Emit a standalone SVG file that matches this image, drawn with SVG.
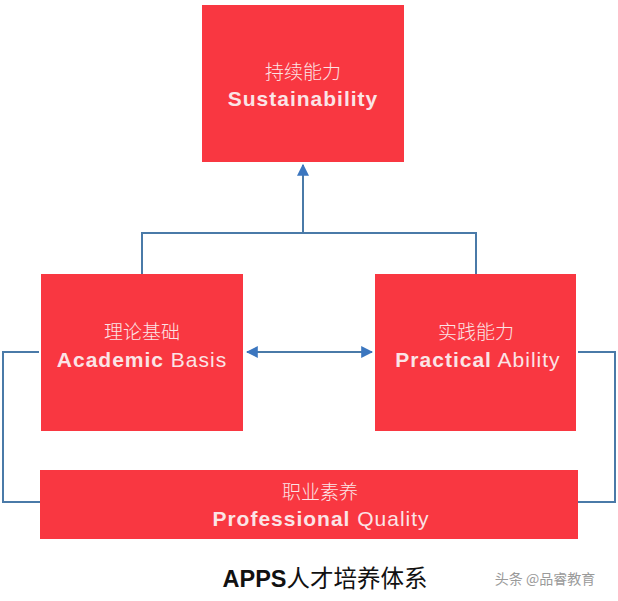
<svg xmlns="http://www.w3.org/2000/svg" width="618" height="601" viewBox="0 0 618 601">
<style>
.box{fill:#F93741}
.cn{font-family:"Noto Sans CJK SC","Noto Sans",sans-serif;font-size:19px;font-weight:300;fill:#FBE4E6;text-anchor:middle}
.en{font-family:"Liberation Sans","Noto Sans CJK SC",sans-serif;font-size:21px;letter-spacing:1px;fill:#FBE4E6;text-anchor:middle}
.b{font-weight:bold}
.ln{fill:none;stroke:#4A7AA8;stroke-width:2}
</style>
<defs>
<marker id="ah" viewBox="0 0 10 10" refX="9" refY="5" markerWidth="6" markerHeight="6" orient="auto-start-reverse" markerUnits="strokeWidth">
<path d="M0,0 L10,5 L0,10 z" fill="#3B76BF"/>
</marker>
</defs>
<rect width="618" height="601" fill="#FFFFFF"/>
<g id="connectors">
<path class="ln" d="M142,274 V233 H476 V274"/>
<path class="ln" d="M303,233 V165" marker-end="url(#ah)"/>
<path class="ln" d="M247,352 H372" marker-start="url(#ah)" marker-end="url(#ah)"/>
<path class="ln" d="M39,352 H3 V502 H40"/>
<path class="ln" d="M578,352 H615 V502 H578"/>
</g>
<g id="sustainability">
<rect class="box" x="202" y="5" width="202" height="157"/>
<text class="cn" x="303" y="79">持续能力</text>
<text class="en b" x="303" y="106">Sustainability</text>
</g>
<g id="academic">
<rect class="box" x="41" y="274" width="202" height="157"/>
<text class="cn" x="142" y="339">理论基础</text>
<text class="en" x="142" y="367"><tspan class="b">Academic</tspan> Basis</text>
</g>
<g id="practical">
<rect class="box" x="375" y="274" width="201" height="157"/>
<text class="cn" x="476" y="339">实践能力</text>
<text class="en" x="478" y="367"><tspan class="b">Practical</tspan>  Ability</text>
</g>
<g id="professional">
<rect class="box" x="40" y="470" width="538" height="69"/>
<text class="cn" x="320" y="499">职业素养</text>
<text class="en" x="321" y="526"><tspan class="b">Professional</tspan>  Quality</text>
</g>
<g id="title">
<text x="325" y="587" font-family="'Liberation Sans','Noto Sans CJK SC',sans-serif" font-size="23.5" fill="#111" text-anchor="middle"><tspan font-weight="bold">APPS</tspan>人才培养体系</text>
<text x="545" y="584" font-family="'Noto Sans CJK SC',sans-serif" font-size="14" fill="#9A9A9A" text-anchor="middle">头条 @品睿教育</text>
</g>
</svg>
